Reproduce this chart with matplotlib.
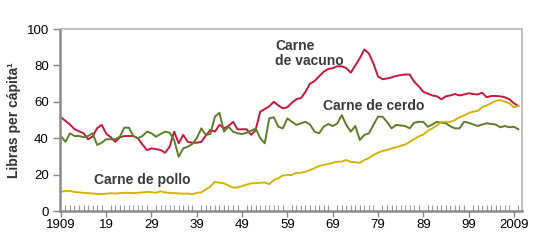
import numpy as np
import matplotlib
matplotlib.use('Agg')
import matplotlib.pyplot as plt
from matplotlib.ticker import MultipleLocator, FixedLocator

# consumo per cápita, 1909-2010 (libras)
beef = [51.5,
        49.5, 47.5, 45, 43.8, 42.7, 39.4, 41, 45.5, 47.3, 42.5,
        40.5, 38, 40.5, 41.2, 41.2, 41.2, 40, 36.5, 33.5, 34.4,
        34, 33.5, 32, 35.3, 43.6, 37.2, 41.8, 38, 37.5, 37.5,
        38, 41.5, 44.5, 43.6, 47.3, 45.4, 46.7, 49, 44.9, 44.9,
        44.9, 41.8, 44.5, 54.6, 56, 57.5, 60, 58, 56.4, 57,
        59.5, 61.5, 62, 65.5, 70, 71.4, 74, 76.5, 78, 78.5,
        79.5, 79.5, 78.5, 76, 80, 84, 88.8, 86.5, 81, 74,
        72.4, 72.8, 73.4, 74.2, 74.7, 75, 75, 71, 68.5, 65.5,
        64.5, 63.5, 63, 61.4, 63, 63.5, 64.3, 63.5, 64, 64.7,
        64.3, 64, 65, 62.5, 63.2, 63.2, 63, 62.5, 61.4, 59.2, 57.7]

pork = [41.2,
        38, 42.7, 41.2, 41.2, 40.5, 41.2, 42.7, 36.3, 37.5, 39.4,
        39.4, 39.4, 40.8, 45.8, 45.8, 41.2, 40, 41.2, 43.6, 42.7,
        40.8, 42.3, 43.6, 43, 39, 29.8, 34.4, 35.3, 36.8, 40,
        45.4, 41.8, 42.3, 51.8, 54, 43.6, 46.3, 43.6, 42.7, 42.3,
        43, 44.1, 45.4, 40, 37.2, 50.9, 51.5, 46.3, 45.4, 50.9,
        49, 47.3, 48.2, 49, 47.5, 43.6, 42.7, 46.3, 47.8, 46.7,
        48, 52.7, 47.3, 43.6, 46.7, 39, 41.8, 42.7, 47.3, 51.8,
        51.8, 49, 45.4, 47.3, 47, 46.7, 45.4, 48.5, 49, 49,
        46.3, 47.5, 49, 48.5, 48.2, 46.5, 45.4, 45.4, 49, 48.5,
        47.6, 46.7, 47.5, 48.2, 47.8, 47.5, 46, 46.7, 46, 46.3, 44.9]

chicken = [10.6,
           11, 11, 10.5, 10.2, 10, 9.8, 9.6, 9.4, 9.3, 9.5,
           9.8, 9.6, 9.8, 10, 10, 9.8, 10, 10.2, 10.5, 10.3,
           10, 10.8, 10.2, 10, 9.8, 9.7, 9.5, 9.6, 9.2, 10,
           10.2, 11.9, 13.5, 16.1, 15.5, 15.2, 14, 12.8, 13, 13.7,
           14.5, 15.2, 15.3, 15.5, 15.6, 14.8, 17, 18, 19.5, 19.8,
           19.8, 21, 21, 21.6, 22.5, 23.5, 24.7, 25.3, 25.8, 26.5,
           27, 27.2, 28, 27, 26.8, 26.5, 28, 29, 30.8, 32,
           33, 33.5, 34.4, 35, 35.8, 36.5, 38, 39.5, 41, 42,
           44, 45.4, 47, 49, 49, 49, 50, 51.5, 52.5, 53.7,
           54.6, 55, 57, 58, 59.2, 60.5, 61, 60, 59.2, 57, 57.7]

years = np.arange(1909, 1909 + len(beef))
assert len(beef) == len(pork) == len(chicken)

x_ticks = [1909, 1919, 1929, 1939, 1949, 1959, 1969, 1979, 1989, 1999, 2009]
x_labels = ['1909', '19', '29', '39', '49', '59', '69', '79', '89', '99', '2009']

plt.rcParams['font.family'] = ['Liberation Sans', 'DejaVu Sans']

fig = plt.figure(figsize=(5.5, 2.47), dpi=100)
ax = fig.add_axes([60/550, 1 - 211/247, 462/550, 182/247])

ax.plot(years, beef, color='#c8173a', lw=1.4)
ax.plot(years, pork, color='#5e7d2a', lw=1.4)
ax.plot(years, chicken, color='#d4b30c', lw=1.4)

ax.set_xlim(1908.8, 2010.8)
ax.set_ylim(0, 100)

ax.yaxis.set_major_locator(MultipleLocator(20))
ax.tick_params(axis='y', direction='out', length=5, width=1, color='#888888',
               labelsize=9.5, pad=3)
ax.xaxis.set_major_locator(FixedLocator(x_ticks))
ax.set_xticklabels(x_labels)
ax.xaxis.set_minor_locator(FixedLocator(list(years)))
ax.tick_params(axis='x', which='major', direction='out', length=4, width=1,
               color='#888888', labelsize=9.5, pad=2)
ax.tick_params(axis='x', which='minor', direction='in', length=4, width=0.8,
               color='#999999')

for side in ['left', 'bottom']:
    ax.spines[side].set_color('#8a8a8a')
    ax.spines[side].set_linewidth(1.8)
for side in ['top', 'right']:
    ax.spines[side].set_color('#b5b5b5')
    ax.spines[side].set_linewidth(1.2)

ax.set_ylabel('Libras per cápita¹', fontsize=10, fontweight='bold',
              color='#333333', labelpad=4)

txt = dict(fontsize=10, fontweight='bold', color='#3a3a3a')
ax.text(1956.3, 86.5, 'Carne\nde vacuno', ha='left', va='center',
        linespacing=1.05, **txt)
ax.text(1966.8, 57.7, 'Carne de cerdo', ha='left', va='center', **txt)
ax.text(1916.3, 17, 'Carne de pollo', ha='left', va='center', **txt)

fig.savefig('out.png', dpi=100)
